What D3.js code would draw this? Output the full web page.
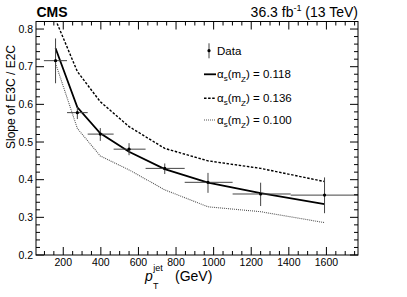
<!DOCTYPE html>
<html>
<head>
<meta charset="utf-8">
<script src="https://cdn.jsdelivr.net/npm/d3@7"></script>
<style>
  body { margin: 0; background: #fff; }
  text { font-family: "Liberation Sans", Arial, sans-serif; fill: #000; }
</style>
</head>
<body>
<svg id="chart" width="407" height="297"></svg>
<script>
// bin edges in jet pT (GeV) and bin centres
var binEdges = [97, 220, 330, 468, 638, 846, 1101, 1410, 1784];
var binCenters = [159, 275, 397, 550, 740, 970, 1250, 1590];

// measured slope with errors
var dataVal = [0.716, 0.578, 0.521, 0.481, 0.430, 0.393, 0.362, 0.359];
var dataErrUp = [0.775, 0.593, 0.537, 0.497, 0.443, 0.418, 0.392, 0.406];
var dataErrDn = [0.656, 0.561, 0.503, 0.465, 0.415, 0.365, 0.330, 0.311];

// theory predictions
var theory118 = [0.749, 0.592, 0.523, 0.474, 0.428, 0.392, 0.364, 0.335];
var theory136 = [0.825, 0.687, 0.607, 0.541, 0.483, 0.450, 0.430, 0.395];
var theory100 = [0.709, 0.536, 0.463, 0.426, 0.373, 0.328, 0.315, 0.286];

var xTicks = [200, 400, 600, 800, 1000, 1200, 1400, 1600];
var yTicks = [0.2, 0.3, 0.4, 0.5, 0.6, 0.7, 0.8];

var frame = { left: 36, right: 358, top: 21.5, bottom: 255 };

var svg = d3.select('#chart');

var x = d3.scaleLinear().domain([55, 1768]).range([frame.left, frame.right]);
var y = d3.scaleLinear().domain([0.2, 0.82]).range([frame.bottom, frame.top]);

svg.append('defs').append('clipPath').attr('id', 'clip')
    .append('rect')
    .attr('x', frame.left).attr('y', frame.top)
    .attr('width', frame.right - frame.left).attr('height', frame.bottom - frame.top);

var plot = svg.append('g').attr('clip-path', 'url(#clip)');

// theory curves
var curves = [
    { vals: theory136, width: 1.4, dash: '2.5,1.6', color: '#000' },
    { vals: theory100, width: 1.1, dash: '1,1', color: '#555' },
    { vals: theory118, width: 1.8, dash: null, color: '#000' }
];
var line = d3.line()
    .x((d, i) => x(binCenters[i]))
    .y(d => y(d));

curves.forEach(c => {
    plot.append('path')
        .attr('d', line(c.vals))
        .attr('fill', 'none')
        .attr('stroke', c.color)
        .attr('stroke-width', c.width)
        .attr('stroke-dasharray', c.dash);
});

// data points with error bars
var pts = plot.selectAll('.pt').data(dataVal).enter().append('g').attr('class', 'pt');
pts.append('line')
    .attr('x1', (d, i) => x(binEdges[i])).attr('x2', (d, i) => x(binEdges[i + 1]))
    .attr('y1', d => y(d)).attr('y2', d => y(d))
    .attr('stroke', '#444').attr('stroke-width', 1);
pts.append('line')
    .attr('x1', (d, i) => x(binCenters[i])).attr('x2', (d, i) => x(binCenters[i]))
    .attr('y1', (d, i) => y(dataErrUp[i])).attr('y2', (d, i) => y(dataErrDn[i]))
    .attr('stroke', '#444').attr('stroke-width', 1);
pts.append('circle')
    .attr('cx', (d, i) => x(binCenters[i])).attr('cy', d => y(d))
    .attr('r', 1.6).attr('fill', '#000');

// frame
svg.append('rect')
    .attr('x', frame.left).attr('y', frame.top)
    .attr('width', frame.right - frame.left).attr('height', frame.bottom - frame.top)
    .attr('fill', 'none').attr('stroke', '#000').attr('stroke-width', 1);

// ticks on all four sides
var ticks = svg.append('g').attr('stroke', '#000').attr('stroke-width', 1);
d3.range(100, 1768, 50).forEach(v => {
    var len = v % 200 === 0 ? 8 : 4;
    ticks.append('line').attr('x1', x(v)).attr('x2', x(v))
        .attr('y1', frame.bottom).attr('y2', frame.bottom - len);
    ticks.append('line').attr('x1', x(v)).attr('x2', x(v))
        .attr('y1', frame.top).attr('y2', frame.top + len);
});
d3.range(0.2, 0.821, 0.02).forEach(v => {
    var isMajor = Math.abs(v * 10 - Math.round(v * 10)) < 1e-6;
    var len = isMajor ? 8 : 4;
    ticks.append('line').attr('x1', frame.left).attr('x2', frame.left + len)
        .attr('y1', y(v)).attr('y2', y(v));
    ticks.append('line').attr('x1', frame.right).attr('x2', frame.right - len)
        .attr('y1', y(v)).attr('y2', y(v));
});

// tick labels
svg.selectAll('.xl').data(xTicks).enter().append('text')
    .attr('x', d => x(d)).attr('y', 266)
    .attr('text-anchor', 'middle').attr('font-size', 10.5)
    .text(d => d);
svg.selectAll('.yl').data(yTicks).enter().append('text')
    .attr('x', 33).attr('y', d => y(d) + 3.8)
    .attr('text-anchor', 'end').attr('font-size', 10.5)
    .text(d => d.toFixed(1));

// axis titles
svg.append('text')
    .attr('transform', 'translate(15,97) rotate(-90)')
    .attr('text-anchor', 'middle').attr('font-size', 12)
    .text('Slope of E3C / E2C');

var xt = svg.append('text').attr('x', 145).attr('y', 281).attr('font-size', 14);
xt.append('tspan').attr('font-style', 'italic').text('p');
xt.append('tspan').attr('font-size', 9).attr('dx', 0.5).attr('dy', -10).text('jet');
xt.append('tspan').attr('font-size', 9).attr('x', 153).attr('dy', 18).text('T');
xt.append('tspan').attr('x', 175).attr('dy', -8).text('(GeV)');

// header
svg.append('text').attr('x', 36.5).attr('y', 16.5)
    .attr('font-size', 14).attr('font-weight', 'bold').text('CMS');
var lumi = svg.append('text').attr('x', 358).attr('y', 16.5)
    .attr('text-anchor', 'end').attr('font-size', 14);
lumi.append('tspan').text('36.3 fb');
lumi.append('tspan').attr('font-size', 9).attr('dy', -6).text('-1');
lumi.append('tspan').attr('dy', 6).text(' (13 TeV)');

// legend
var leg = svg.append('g');
leg.append('line').attr('x1', 209).attr('x2', 209).attr('y1', 43.3).attr('y2', 58.3)
    .attr('stroke', '#444');
leg.append('circle').attr('cx', 209).attr('cy', 50.7).attr('r', 1.6).attr('fill', '#000');
leg.append('text').attr('x', 217).attr('y', 54.8).attr('font-size', 11.5).text('Data');

var legItems = [
    { label: '0.118', cy: 74.3, curve: curves[2] },
    { label: '0.136', cy: 98.3, curve: curves[0] },
    { label: '0.100', cy: 120, curve: curves[1] }
];
legItems.forEach(it => {
    leg.append('line').attr('x1', 204).attr('x2', 216).attr('y1', it.cy).attr('y2', it.cy)
        .attr('stroke', it.curve.color).attr('stroke-width', it.curve.width)
        .attr('stroke-dasharray', it.curve.dash);
    var t = leg.append('text').attr('x', 217).attr('y', it.cy + 4).attr('font-size', 11.5);
    t.append('tspan').text('\u03b1');
    t.append('tspan').attr('font-size', 8).attr('dy', 2.5).text('s');
    t.append('tspan').attr('dy', -2.5).text('(m');
    t.append('tspan').attr('font-size', 8).attr('dy', 3.5).text('Z');
    t.append('tspan').attr('dy', -3.5).text(') = ' + it.label);
});
</script>
</body>
</html>
